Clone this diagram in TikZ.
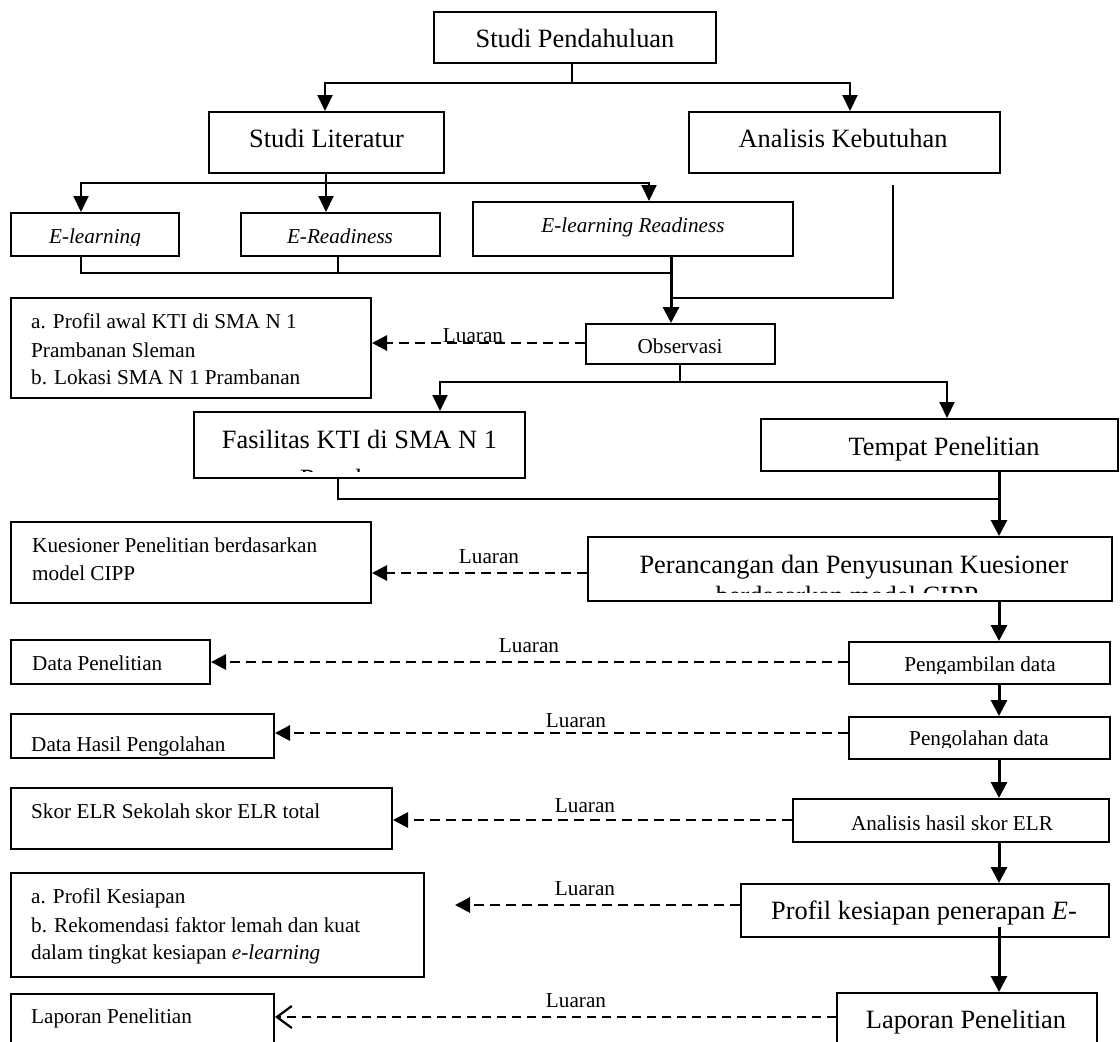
\documentclass[tikz,border=0pt]{standalone}
\usepackage{fontspec}
\setmainfont{Liberation Serif}
\usetikzlibrary{arrows.meta,calc}
\begin{document}
\begin{tikzpicture}[x=1pt,y=-1pt,
  box/.style={draw, line width=2pt, inner sep=0pt},
  lg/.style={font=\fontsize{26.4}{30}\selectfont, inner sep=0pt, anchor=base},
  sm/.style={font=\fontsize{21.2}{25}\selectfont, inner sep=0pt, anchor=base},
  smL/.style={sm, anchor=base west},
  ln/.style={line width=2pt},
  arr/.style={line width=2pt, -{Triangle[width=15pt,length=16pt]}},
  marr/.style={line width=3pt, -{Triangle[width=16pt,length=16pt]}},
  darr/.style={line width=2.8pt, dash pattern=on 10pt off 6pt, -{Triangle[width=15pt,length=15pt]}},
  oarr/.style={line width=2.6pt, dash pattern=on 9pt off 6pt, -{Straight Barb[width=22pt,length=15pt,line width=2.2pt]}},
]
\useasboundingbox (0,0) rectangle (1120,1042);
\fill[white] (0,0) rectangle (1120,1042);
\clip (0,0) rectangle (1120,1042);

% ---------- boxes ----------
\node[box, minimum width=282pt, minimum height=51pt] (sp) at (575,37.5) {};
\node[box, minimum width=235pt, minimum height=61pt] (sl) at (326.5,142.5) {};
\node[box, minimum width=311pt, minimum height=61pt] (ak) at (844.5,142.5) {};
\node[box, minimum width=168pt, minimum height=43pt] (el) at (95,234.5) {};
\node[box, minimum width=199pt, minimum height=43pt] (er) at (340.5,234.5) {};
\node[box, minimum width=320pt, minimum height=54pt] (elr) at (633,229) {};
\node[box, minimum width=360pt, minimum height=100pt] (o1) at (191,348) {};
\node[box, minimum width=189pt, minimum height=40pt] (obs) at (680.5,344) {};
\node[box, minimum width=331pt, minimum height=66pt] (fas) at (359.5,445) {};
\node[box, minimum width=357pt, minimum height=52pt] (tp) at (939.5,445) {};
\node[box, minimum width=360pt, minimum height=81pt] (ko) at (191,562.5) {};
\node[box, minimum width=524pt, minimum height=64pt] (pk) at (850,569) {};
\node[box, minimum width=199pt, minimum height=44pt] (dp) at (110.5,662) {};
\node[box, minimum width=261pt, minimum height=42pt] (pa) at (979.5,663) {};
\node[box, minimum width=263pt, minimum height=44pt] (dh) at (142.5,736) {};
\node[box, minimum width=261pt, minimum height=42pt] (pl) at (979.5,738) {};
\node[box, minimum width=381pt, minimum height=61pt] (sk) at (201.5,818.5) {};
\node[box, minimum width=316pt, minimum height=43pt] (an) at (951,820.5) {};
\node[box, minimum width=413pt, minimum height=104pt] (o5) at (217.5,925) {};
\node[box, minimum width=368pt, minimum height=53pt] (pr) at (925,910.5) {};
\node[box, minimum width=263pt, minimum height=80pt] (ll) at (142.5,1034) {};
\node[box, minimum width=260pt, minimum height=81pt] (lr) at (967,1033.5) {};

% ---------- texts ----------
\node[lg] (spT) at (575,47) {Studi Pendahuluan};
\node[lg] (slT) at (326.5,147) {Studi Literatur};
\node[lg] (akT) at (843,147) {Analisis Kebutuhan};
\begin{scope}
  \clip (11,213) rectangle (179,245);
  \node[sm] (elT) at (95,243) {\textit{E-learning}};
\end{scope}
\node[sm] (erT) at (340,243) {\textit{E-Readiness}};
\node[sm] (elrT) at (633,232) {\textit{E-learning Readiness}};
\node[smL] (o1a) at (31,328) {a. Profil awal KTI di SMA N 1};
\node[smL] (o1b) at (31,357) {Prambanan Sleman};
\node[smL] (o1c) at (31,384) {b. Lokasi SMA N 1 Prambanan};
\begin{scope}
  \clip (586,324) rectangle (775,354.5);
  \node[sm] (obsT) at (680,353) {Observasi};
\end{scope}
\node[lg] (fasT) at (359.5,448) {Fasilitas KTI di SMA N 1};
\begin{scope}
  \clip (194,412) rectangle (525,471);
  \node[lg] (fasT2) at (359.5,487) {Prambanan};
\end{scope}
\node[lg] (tpT) at (944,455) {Tempat Penelitian};
\node[smL] (koa) at (32,552) {Kuesioner Penelitian berdasarkan};
\node[smL] (kob) at (32,580) {model CIPP};
\node[lg] (pkT) at (854,573) {Perancangan dan Penyusunan Kuesioner};
\begin{scope}
  \clip (588,537) rectangle (1112,592);
  \node[lg] (pkT2) at (847,604) {berdasarkan model CIPP};
\end{scope}
\node[smL] (dpT) at (32,670) {Data Penelitian};
\begin{scope}
  \clip (849,642) rectangle (1110,673);
  \node[sm] (paT) at (980,671) {Pengambilan data};
\end{scope}
\begin{scope}
  \clip (11,714) rectangle (274,755);
  \node[smL] (dhT) at (31,751) {Data Hasil Pengolahan};
\end{scope}
\begin{scope}
  \clip (849,717) rectangle (1110,747);
  \node[sm] (plT) at (979,745) {Pengolahan data};
\end{scope}
\node[smL] (skT) at (31,818) {Skor ELR Sekolah skor ELR total};
\node[sm] (anT) at (952,830) {Analisis hasil skor ELR};
\node[smL] (o5a) at (31,903) {a. Profil Kesiapan};
\node[smL] (o5b) at (31,932) {b. Rekomendasi faktor lemah dan kuat};
\node[smL] (o5c) at (31,959) {dalam tingkat kesiapan \textit{e-learning}};
\node[lg] (prT) at (924,919) {Profil kesiapan penerapan \textit{E}-};
\node[smL] (llT) at (31,1023) {Laporan Penelitian};
\node[lg] (lrT) at (966,1028) {Laporan Penelitian};

% ---------- Luaran labels ----------
\node[sm] (lu1) at (473,342) {Luaran};
\node[sm] (lu2) at (489,563) {Luaran};
\node[sm] (lu3) at (529,652) {Luaran};
\node[sm] (lu4) at (576,727) {Luaran};
\node[sm] (lu5) at (585,812) {Luaran};
\node[sm] (lu6) at (585,895) {Luaran};
\node[sm] (lu7) at (576,1007) {Luaran};

% ---------- top connectors ----------
\coordinate (j0) at (572,83);
\coordinate (a1) at (325,83);
\coordinate (a2) at (850,83);
\draw[ln] (j0 |- sp.south) -- (j0);
\draw[arr] (j0) -| (a1 |- sl.north);
\draw[arr] (j0) -| (a2 |- ak.north);

\coordinate (b0) at (326,183);
\coordinate (b1) at (81,183);
\coordinate (b3) at (649,183);
\draw[arr] (b0 |- sl.south) -- (b0 |- er.north);
\draw[arr] (b0) -| (b1 |- el.north);
\draw[arr] (b0) -| (b3 |- elr.north);

\coordinate (c1) at (81,273);
\coordinate (c2) at (338,273);
\coordinate (c3) at (671,273);
\draw[ln] (c1 |- el.south) |- (c3);
\draw[ln] (c2 |- er.south) -- (c2);
\draw[marr] (c3 |- elr.south) -- (c3 |- obs.north);
\coordinate (d0) at (893,185);
\coordinate (d1) at (671,298);
\draw[ln] (d0) |- (d1);

% ---------- observasi ----------
\coordinate (yo) at (0,343);
\draw[darr] (obs.west |- yo) -- (o1.east |- yo);
\coordinate (e0) at (680,382);
\coordinate (e1) at (440,382);
\coordinate (e2) at (947,382);
\draw[ln] (e0 |- obs.south) -- (e0);
\draw[arr] (e0) -| (e1 |- fas.north);
\draw[arr] (e0) -| (e2 |- tp.north);

\coordinate (f0) at (338,499);
\coordinate (f1) at (999,499);
\draw[ln] (f0 |- fas.south) |- (f1);
\draw[marr] (f1 |- tp.south) -- (f1 |- pk.north);

% ---------- main column ----------
\coordinate (m) at (999,0);
\draw[marr] (m |- pk.south) -- (m |- pa.north);
\draw[marr] (m |- pa.south) -- (m |- pl.north);
\draw[marr] (m |- pl.south) -- (m |- an.north);
\draw[marr] (m |- an.south) -- (m |- pr.north);
\coordinate (p0) at (999,927);
\draw[marr] (p0) -- (p0 |- lr.north);

% ---------- outputs ----------
\coordinate (yk) at (0,573);
\draw[darr] (pk.west |- yk) -- (ko.east |- yk);
\coordinate (ya) at (0,662);
\draw[darr] (pa.west |- ya) -- (dp.east |- ya);
\coordinate (yl) at (0,733);
\draw[darr] (pl.west |- yl) -- (dh.east |- yl);
\coordinate (yn) at (0,820);
\draw[darr] (an.west |- yn) -- (sk.east |- yn);
\coordinate (q5) at (455,905);
\draw[darr] (pr.west |- q5) -- (q5);
\coordinate (yr) at (0,1017);
\draw[oarr] (lr.west |- yr) -- (ll.east |- yr);
\end{tikzpicture}
\end{document}
